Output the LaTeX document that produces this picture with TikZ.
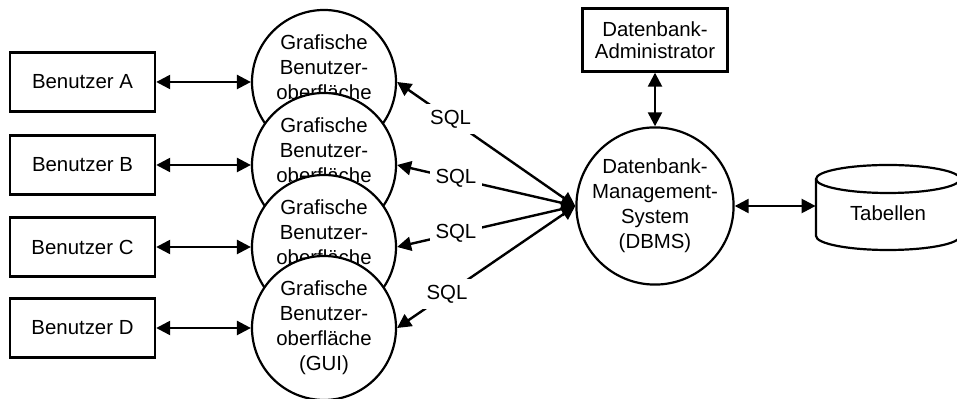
\documentclass[tikz,border=0pt]{standalone}
\usepackage{fontspec}
\setmainfont{Liberation Sans}
\usetikzlibrary{shapes.geometric,arrows.meta,positioning}

\begin{document}
\begin{tikzpicture}[x=0.5pt, y=-0.5pt,
    every node/.style={font=\fontsize{10.2}{12.5}\selectfont},
    usr/.style={draw, line width=1.2pt, minimum width=72.5pt, minimum height=29.5pt, inner sep=0pt},
    gui/.style={circle, draw, fill=white, line width=1.1pt, minimum size=72pt, inner sep=0pt, align=center},
    dbms/.style={circle, draw, fill=white, line width=1.1pt, minimum size=73pt, inner sep=0pt, align=center},
    tab/.style={minimum width=72pt, inner sep=0pt},
    sql/.style={fill=white, inner sep=3pt},
    conn/.style={<->, line width=1.2pt},
    >={Triangle[length=7pt,width=7pt]}
]
\useasboundingbox (0,0) rectangle (957,399);

\foreach \i/\y in {A/82, B/165, C/247, D/328} {
    \node[usr] (User\i) at (82.5,\y) {Benutzer \i};
    \node[gui] (Gui\i) at (324,\y) {Grafische\\Benutzer-\\oberfläche\\(GUI)};
    \draw[conn] (User\i) -- (Gui\i);
}

\node[dbms] (Dbms) at (655,206) {Datenbank-\\Management-\\System\\(DBMS)};
\node[usr, minimum height=31.5pt, align=center, font=\fontsize{10.2}{10.8}\selectfont] (Admin) at (655,40) {Datenbank-\\Administrator};

% Tabellen cylinder
\node[tab] (Tab) at (888,213) {Tabellen};
\draw[line width=1.1pt] (888,179) ellipse[x radius=36pt, y radius=7pt];
\draw[line width=1.1pt] (816,179) -- (816,236) arc[start angle=180, end angle=360, x radius=36pt, y radius=7pt] -- (960,179);

% SQL connections
\foreach \i/\p in {A/0.7, B/0.67, C/0.67, D/0.72}
    \draw[conn] (Dbms.west) -- node[sql, pos=\p] {SQL} (Gui\i.east);

\draw[conn] (Admin) -- (Dbms);
\draw[conn] (Dbms.east) -- (Dbms.east -| Tab.west);
\end{tikzpicture}
\end{document}
